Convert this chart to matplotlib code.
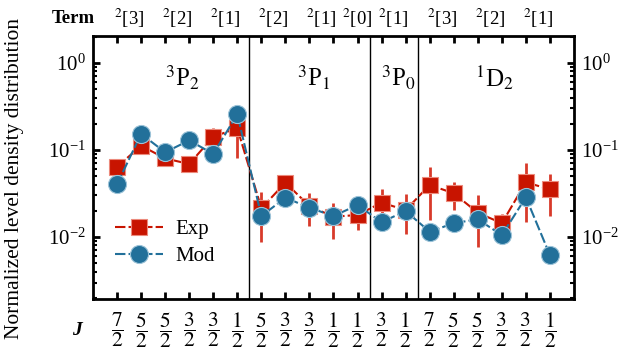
import numpy as np
import matplotlib
matplotlib.use("Agg")
import matplotlib.pyplot as plt
import matplotlib.transforms as mtransforms

plt.rcParams['font.family'] = ['Liberation Serif', 'DejaVu Serif']
plt.rcParams['mathtext.fontset'] = 'stix'

# states, in plot order
groups = ['$^3$P$_2$'] * 6 + ['$^3$P$_1$'] * 5 + ['$^3$P$_0$'] * 2 + ['$^1$D$_2$'] * 6
terms = ['3', '3', '2', '2', '1', '1',
         '2', '2', '1', '1', '0',
         '1', '1',
         '3', '3', '2', '2', '1', '1']
j_num = [7, 5, 5, 3, 3, 1,
         5, 3, 3, 1, 1,
         3, 1,
         7, 5, 5, 3, 3, 1]

exp = np.array([0.064, 0.112, 0.080, 0.069, 0.142, 0.178,
                0.0214, 0.0421, 0.0227, 0.0171, 0.0179,
                0.0248, 0.0204,
                0.0396, 0.0318, 0.0190, 0.0144, 0.0425, 0.0353])
exp_lo = np.array([0.0544, 0.0956, 0.0695, 0.0563, 0.114, 0.080,
                   0.0088, 0.0347, 0.0134, 0.0094, 0.0120,
                   0.0165, 0.0108,
                   0.0157, 0.0204, 0.0077, 0.0120, 0.0150, 0.0174])
exp_hi = np.array([0.0734, 0.136, 0.092, 0.081, 0.179, 0.304,
                   0.0332, 0.0516, 0.0323, 0.0248, 0.0223,
                   0.0353, 0.031,
                   0.0643, 0.0432, 0.0304, 0.0182, 0.0703, 0.053])
mod = np.array([0.0403, 0.153, 0.094, 0.129, 0.090, 0.257,
                0.0174, 0.0283, 0.0217, 0.0174, 0.0233,
                0.0148, 0.0199,
                0.0115, 0.0144, 0.0160, 0.0105, 0.0286, 0.0062])

red = '#c81400'
blue = '#22709a'

fig = plt.figure(figsize=(6.23, 3.53), dpi=100)
ax = fig.add_axes([0.1493, 0.153, 0.772, 0.745])

x = np.arange(len(exp))
ax.errorbar(x, exp, yerr=[exp - exp_lo, exp_hi - exp], fmt='none',
            ecolor='#d83a2a', elinewidth=2, capsize=0, zorder=2)
ax.plot(x, exp, color=red, ls=(0, (5, 1.5)), lw=1.5, marker='s', ms=11,
        mfc=red, mec='#ec8a7c', mew=0.8, label='Exp', zorder=3)
ax.plot(x, mod, color=blue, ls=(0, (5, 1.5)), lw=1.5, marker='o', ms=13,
        mfc=blue, mec='#9cc3d8', mew=0.8, label='Mod', zorder=4)

ax.set_yscale('log')
ax.set_ylim(0.00194, 2.04)
ax.set_xlim(-1, len(exp))

# group separators and group names
bounds = [i + 0.5 for i in range(len(groups) - 1) if groups[i] != groups[i + 1]]
for b in bounds:
    ax.axvline(b, color='black', lw=1, zorder=1)

trans = mtransforms.blended_transform_factory(ax.transData, ax.transAxes)

edges = [0] + [int(b + 0.5) for b in bounds] + [len(groups)]
for k in range(len(edges) - 1):
    xc = (edges[k] + edges[k + 1] - 1) / 2
    ax.text(xc + 0.2, 0.84, groups[edges[k]], transform=trans, fontsize=18,
            ha='center', va='center')

# term labels: runs within each group
for k in range(len(edges) - 1):
    seg = terms[edges[k]:edges[k + 1]]
    start = 0
    for i in range(1, len(seg) + 1):
        if i == len(seg) or seg[i] != seg[start]:
            xc = edges[k] + (start + i - 1) / 2
            ax.text(xc, 1.066, '$^2$[' + seg[start] + ']', transform=trans,
                    fontsize=13.5, ha='center', va='center')
            start = i

ax.text(-0.042, 1.068, 'Term', transform=ax.transAxes, fontsize=13.5,
        fontweight='bold', ha='center', va='center')
ax.text(-0.033, -0.118, 'J', transform=ax.transAxes, fontsize=14,
        fontweight='bold', fontstyle='italic', ha='center', va='center')

ax.set_xticks(x)
ax.set_xticklabels([r'$\dfrac{%d}{2}$' % n for n in j_num])

ax.tick_params(axis='both', which='both', direction='in', top=True,
               right=True, width=2)
ax.tick_params(axis='both', which='major', length=5)
ax.tick_params(axis='x', which='major', pad=8, labelsize=15.5)
ax.tick_params(axis='y', which='major', labelsize=15, pad=5,
               labelleft=True, labelright=True)
ax.tick_params(axis='y', which='minor', length=3, width=1.5)
for sp in ax.spines.values():
    sp.set_linewidth(2)

ax.set_ylabel('Normalized level density distribution', fontsize=15.5)
ax.yaxis.set_label_coords(-0.143, 0.46)

ax.legend(loc='lower left', bbox_to_anchor=(0.015, 0.07), frameon=False,
          fontsize=15, handlelength=2.3, handletextpad=0.6,
          borderaxespad=0.3, labelspacing=0.35)

fig.savefig('out.png', dpi=100)
